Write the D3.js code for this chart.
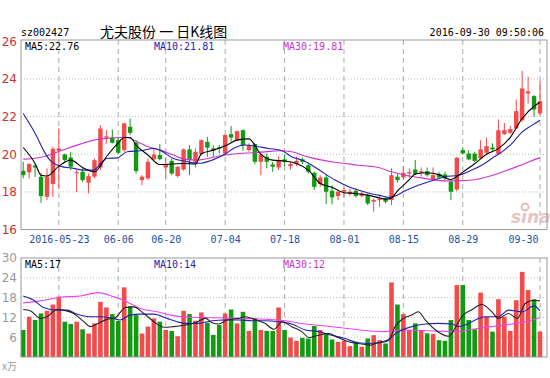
<!DOCTYPE html>
<meta charset="utf-8">
<script src="https://cdn.jsdelivr.net/npm/d3@7"></script>
<style>
  body { margin: 0; background: #fff; }
  text { font-family: "DejaVu Sans Mono", monospace; }
</style>
<body>
<div id="chart"></div>
<script>
// daily candles 2016-05-13 .. 2016-09-30 (index = trading day)
var opens  = [19.12,19.04,19.40,18.81,17.74,18.42,20.19,19.99,19.83,19.00,19.07,18.49,18.81,19.30,20.88,20.89,20.75,20.22,21.46,20.61,
              18.63,18.72,19.73,19.96,19.30,19.65,18.84,19.19,20.26,19.60,20.01,20.66,20.31,20.36,20.04,21.07,20.75,21.28,20.22,20.54,
              19.60,19.87,19.46,19.30,19.73,19.37,19.48,19.73,19.42,19.02,18.42,18.77,18.06,17.78,18.01,17.92,18.06,17.78,17.83,17.48,
              17.57,17.65,17.57,18.81,18.77,18.98,19.19,19.02,19.10,18.66,18.95,18.93,18.54,18.13,20.22,20.04,20.04,19.78,20.08,20.36,
              20.01,21.07,21.14,21.37,21.81,23.23,23.09,22.17];
var highs  = [19.60,19.55,19.48,19.02,19.25,20.40,21.37,20.04,20.13,19.16,19.25,18.98,19.78,21.55,21.28,21.32,20.93,21.67,21.90,20.75,
              18.89,19.78,20.30,20.54,19.80,19.78,19.37,20.31,20.49,20.31,20.79,20.93,20.49,20.49,21.07,21.50,21.25,21.32,20.58,20.58,
              20.04,20.04,19.60,19.90,19.99,19.60,19.87,19.83,19.51,19.07,18.89,18.95,18.36,18.13,18.24,18.19,18.19,18.01,17.92,17.65,
              17.83,17.78,19.25,18.95,19.37,19.25,19.69,19.30,19.30,19.30,19.07,19.07,18.63,19.87,20.36,20.22,20.13,20.75,20.89,20.58,
              21.85,21.67,21.50,22.91,24.43,24.12,23.14,23.90];
var lows   = [18.72,18.72,18.80,17.42,17.57,17.74,18.19,19.60,19.16,18.00,18.54,17.92,18.72,19.16,20.57,20.58,20.01,20.13,21.02,18.98,
              18.36,18.63,19.69,19.69,18.72,18.89,18.77,19.12,18.89,19.30,19.96,19.87,19.87,20.04,19.96,20.66,20.72,20.19,20.13,19.48,
              18.89,19.25,19.07,19.16,19.37,19.19,19.37,19.48,18.98,18.10,18.27,17.35,17.34,17.57,17.71,17.78,17.71,17.71,17.30,16.95,
              17.21,17.39,17.30,18.49,18.66,18.72,18.89,18.81,18.81,18.63,18.72,18.63,17.57,18.04,19.99,19.69,19.60,19.78,20.01,20.13,
              20.01,21.02,21.07,21.37,21.73,22.70,21.99,22.08];
var closes = [18.89,19.48,19.30,17.78,18.81,20.29,20.31,19.69,19.34,19.05,18.63,18.84,19.69,21.37,20.95,20.61,20.08,21.64,21.14,19.11,
              18.81,19.60,19.99,19.74,19.45,18.98,19.34,20.26,19.69,20.13,20.75,20.35,20.19,20.30,21.02,20.89,21.23,20.49,20.49,19.60,
              19.99,19.60,19.34,19.69,19.60,19.48,19.65,19.60,19.07,18.27,18.77,18.01,17.71,18.01,18.10,18.01,17.78,17.92,17.39,17.57,
              17.65,17.48,18.89,18.63,19.02,19.05,18.95,19.10,18.89,18.89,18.77,18.72,18.01,19.81,20.04,19.73,19.65,20.26,20.43,20.26,
              21.28,21.28,21.34,22.29,23.50,23.34,22.38,22.82];
// volume, 万手
var volumes = [8.2,12.2,11.2,13.2,14.0,15.9,18.3,10.7,10.0,10.7,8.4,7.1,10.2,16.7,15.0,13.0,10.9,21.1,15.4,12.7,
               7.1,9.2,11.7,10.7,8.2,7.9,6.3,14.0,13.0,11.0,13.5,10.4,6.7,9.7,13.2,14.4,10.2,13.7,7.9,11.7,
               8.2,7.9,7.9,15.0,8.2,5.9,4.9,5.8,5.6,9.4,8.2,7.2,5.3,4.6,4.9,3.3,4.6,3.1,5.6,6.6,
               5.1,4.1,22.6,15.9,13.0,8.2,10.2,8.2,7.2,7.0,5.1,4.9,11.2,21.8,21.8,11.2,8.4,19.5,12.2,7.7,
               17.5,12.2,7.9,17.2,25.8,20.3,17.5,7.7];

// moving average lines: [day index, value]
var ma5 = [[0,20.36],[2,19.51],[3,18.89],[4,18.85],[6,19.37],[8,19.69],[10,19.30],[12,19.07],[14,19.87],[16,20.61],[17,20.89],
           [18,20.89],[19,20.49],[21,19.96],[23,19.46],[25,19.48],[27,19.51],[29,19.48],[30,20.03],[32,20.22],[34,20.45],[36,20.75],
           [38,20.82],[40,20.01],[42,19.69],[44,19.64],[46,19.51],[48,19.16],[50,18.45],[52,18.25],[54,17.96],[56,17.92],[58,17.83],
           [60,17.68],[61,17.62],[62,17.68],[63,18.05],[64,18.35],[65,18.65],[66,18.95],[68,19.02],[70,18.92],[72,18.66],[73,18.82],
           [74,19.05],[76,19.50],[78,20.00],[80,20.30],[82,20.90],[84,21.90],[86,22.55],[87,22.76]];
var ma10 = [[0,22.17],[1.2,21.55],[2.3,20.93],[3.4,20.22],[4.5,19.69],[6.2,19.37],[8.5,19.25],[10.2,19.16],[11.9,19.16],[13,19.51],
            [14.1,19.78],[15.8,19.81],[17.5,20.13],[19.7,20.19],[22,20.31],[23,20.22],[25.3,19.78],[27.3,19.63],[29.5,19.52],
            [31.8,19.69],[34,20.01],[35.7,20.36],[37.4,20.49],[39,20.43],[41.3,20.31],[43.6,20.19],[45.2,19.87],[46.9,19.69],
            [48.6,19.42],[50.3,19.07],[52.5,18.63],[54.8,18.27],[56.4,18.10],[58.4,17.92],[59.8,17.83],[61.5,17.71],[62.6,17.78],
            [64.3,18.06],[66.5,18.36],[68.8,18.59],[71,18.81],[73.3,18.89],[75.5,19.16],[77.2,19.42],[78.9,19.78],[80.6,20.13],
            [82.3,20.58],[84,21.19],[85.7,21.55],[87,21.81]];
var ma30 = [[0,19.74],[1.7,19.78],[3.4,19.87],[5.1,20.04],[7.4,20.31],[9.6,20.54],[11.9,20.75],[14.1,20.84],[16.3,20.89],
            [17.5,20.89],[19.2,20.66],[20.8,20.43],[23.1,20.22],[25.3,19.96],[27.3,19.73],[29.5,19.70],[31.8,19.83],[34,19.96],
            [36.3,20.04],[38.5,20.08],[40.7,20.13],[43,20.19],[45.2,20.13],[47.5,19.90],[49.7,19.73],[51.9,19.60],[54.2,19.51],
            [56.4,19.42],[58.4,19.36],[59.8,19.30],[62,19.07],[64.3,18.89],[66.5,18.77],[68.8,18.66],[71,18.59],[73.3,18.59],
            [75.5,18.63],[77.7,18.77],[80,18.98],[82.3,19.25],[84.5,19.51],[86.2,19.73],[87,19.81]];
var vma5 = [[0,14.4],[1.2,14.0],[2.9,11.7],[4,12.2],[5.7,14.4],[6.8,14.2],[8.5,13.2],[10.2,10.7],[11.3,9.2],[12.4,10.0],
            [14.1,11.4],[15.5,11.9],[17.2,15.0],[18.6,15.2],[20.3,13.2],[22,10.7],[23.7,9.0],[25.3,9.2],[27,9.6],[29,10.4],
            [30.7,11.7],[31.8,10.4],[32.9,10.0],[34.3,11.2],[36.3,11.7],[37.4,12.2],[39,11.4],[40.7,10.2],[42.2,8.4],[43.6,10.7],
            [45.2,9.2],[46.9,7.7],[48.1,5.9],[49.7,6.6],[51.4,7.1],[53,5.9],[54.8,4.6],[56.4,4.1],[58.4,3.6],[59.3,4.1],[61.5,4.9],
            [62.6,9.2],[64,11.7],[65.4,12.7],[66.5,13.7],[67.7,11.2],[69.4,8.2],[71.6,6.3],[72.7,8.7],[73.8,12.2],[75.6,14.4],
            [77.2,15.9],[78.9,13.7],[80,11.7],[81.7,13.2],[83.2,11.7],[84.5,16.2],[86,17.2],[87,17.0]];
var vma10 = [[0,18.5],[1.7,17.3],[3.4,15.0],[5.7,14.2],[7.4,14.2],[9,13.0],[11.3,12.2],[13,12.2],[15.2,11.7],[16.3,11.2],
             [18,12.7],[19.7,13.0],[22,13.0],[24.2,11.7],[25.9,10.7],[27.3,10.2],[29.5,10.2],[31.8,11.0],[34,11.2],[36.3,11.2],
             [38.5,11.0],[40.7,11.0],[43,10.7],[45.2,10.0],[47.5,8.2],[49.7,7.7],[51.9,6.6],[54.2,5.6],[56.4,4.3],[58.4,4.1],
             [61,4.9],[63.2,7.7],[65.4,9.2],[67.7,10.0],[69.9,10.2],[72.2,10.0],[73.3,9.2],[74.4,9.7],[76.1,11.2],[77.8,12.2],
             [80,12.2],[81.7,14.2],[84,13.7],[86,15.5],[87,14.0]];
var vma30 = [[0,16.4],[2.9,17.0],[6.2,18.1],[9.6,18.5],[12.7,19.5],[15.2,18.3],[17.5,16.7],[19.7,14.7],[22.5,13.7],[24.8,12.7],
             [27.3,12.1],[31.8,11.9],[36.3,11.7],[41.3,11.4],[44.1,11.0],[47.5,10.0],[50.9,9.4],[54.2,8.7],[58.4,7.9],[61,7.7],
             [64.3,8.2],[68.8,7.9],[73.3,7.7],[75.5,8.4],[78.9,9.2],[82.3,10.0],[85.7,11.2],[87,12.0]];

var tickIdx = [6, 16, 24, 34, 44, 54, 64, 74, 87];
var tickLabels = ["2016-05-23", "06-06", "06-20", "07-04", "07-18", "08-01", "08-15", "08-29", "09-30"];
var priceTicks = [16, 18, 20, 22, 24, 26];
var volTicks = [6, 12, 18, 24, 30];

var W = 550, H = 378;
var left = 21, right = 547;
var pTop = 40, pBot = 229.6, vTop = 258, vBot = 357;
var red = "#f24b4b", green = "#129a12";

var svg = d3.select("#chart").append("svg")
    .attr("width", W).attr("height", H);

var x = d3.scaleLinear().domain([0, 87]).range([23.2, 540]);
var y = d3.scaleLinear().domain([16, 26]).range([pBot, 41.3]);
var yv = d3.scaleLinear().domain([0, 30]).range([vBot, vTop]);

// header
svg.append("text").attr("x", 21).attr("y", 36).attr("font-size", 10).attr("fill", "#000").text("sz002427");
svg.append("text").attr("x", 100).attr("y", 37).attr("font-size", 14)
    .style("font-family", "'Noto Sans CJK SC', sans-serif").attr("fill", "#000")
    .text("尤夫股份 一 日K线图");
svg.append("text").attr("x", 544).attr("y", 36).attr("font-size", 10).attr("text-anchor", "end")
    .attr("fill", "#000").text("2016-09-30 09:50:06");

// grids
function panelGrid(top, bot, scale, ticks) {
  svg.append("g").selectAll("line").data(ticks).enter().append("line")
      .attr("x1", left).attr("x2", right)
      .attr("y1", function(d) { return scale(d); }).attr("y2", function(d) { return scale(d); })
      .attr("stroke", "#bbb").attr("stroke-dasharray", "1,2");
  svg.append("g").selectAll("line").data(tickIdx).enter().append("line")
      .attr("x1", function(d) { return x(d); }).attr("x2", function(d) { return x(d); })
      .attr("y1", top).attr("y2", bot)
      .attr("stroke", "#aaa").attr("stroke-dasharray", "5,4");
}
panelGrid(pTop, pBot, y, [18, 20, 22, 24]);
panelGrid(vTop, vBot, yv, [6, 12, 18, 24]);

// axes labels
var ya = svg.append("g").attr("transform", "translate(" + left + ",0)")
    .call(d3.axisLeft(y).tickValues(priceTicks).tickSize(0).tickPadding(4).tickFormat(d3.format("d")));
ya.select(".domain").remove();
ya.selectAll("text").attr("fill", "#cc3333").attr("font-size", 12)
    .style("font-family", "'DejaVu Sans', sans-serif");

var yva = svg.append("g").attr("transform", "translate(" + left + ",0)")
    .call(d3.axisLeft(yv).tickValues(volTicks).tickSize(0).tickPadding(4).tickFormat(d3.format("d")));
yva.select(".domain").remove();
yva.selectAll("text").attr("fill", "#999").attr("font-size", 12)
    .style("font-family", "'DejaVu Sans', sans-serif");

var xa = svg.append("g").attr("transform", "translate(0," + pBot + ")")
    .call(d3.axisBottom(x).tickValues(tickIdx).tickSize(0).tickPadding(6)
      .tickFormat(function(d, i) { return tickLabels[i]; }));
xa.select(".domain").remove();
xa.selectAll("text").attr("fill", "#1f4f9f").attr("font-size", 10)
    .style("font-family", "'DejaVu Sans Mono', monospace");
xa.selectAll("text").filter(function(d) { return d === 87; })
    .attr("text-anchor", "end").attr("dx", -2);

svg.append("text").attr("x", 2).attr("y", 370).attr("font-size", 10).attr("fill", "#999")
    .style("font-family", "'Noto Sans CJK SC', sans-serif").text("x万");

// sina mark
svg.append("circle").attr("cx", 525).attr("cy", 207).attr("r", 3.5)
    .attr("fill", "none").attr("stroke", "#eaa9a9").attr("stroke-width", 1.5);
svg.append("text").attr("x", 511).attr("y", 223).attr("font-size", 17).attr("font-style", "italic")
    .attr("font-weight", "bold").attr("fill", "#e6c4c4")
    .style("font-family", "'DejaVu Sans', sans-serif").text("sina");

var idx = d3.range(closes.length);
function col(i) { return closes[i] >= opens[i] ? red : green; }

// candles
var cg = svg.append("g");
cg.selectAll("line").data(idx).enter().append("line")
    .attr("x1", function(i) { return x(i); }).attr("x2", function(i) { return x(i); })
    .attr("y1", function(i) { return y(highs[i]); }).attr("y2", function(i) { return y(lows[i]); })
    .attr("stroke", col).attr("stroke-width", 1);
cg.selectAll("rect").data(idx).enter().append("rect")
    .attr("x", function(i) { return x(i) - 2.2; }).attr("width", 4.4)
    .attr("y", function(i) { return y(Math.max(opens[i], closes[i])); })
    .attr("height", function(i) { return Math.max(1, Math.abs(y(opens[i]) - y(closes[i]))); })
    .attr("fill", col);

// volume bars
svg.append("g").selectAll("rect").data(idx).enter().append("rect")
    .attr("x", function(i) { return x(i) - 2.3; }).attr("width", 4.6)
    .attr("y", function(i) { return yv(volumes[i]); })
    .attr("height", function(i) { return vBot - yv(volumes[i]); })
    .attr("fill", col);

// MA lines
function maLine(data, scale, color) {
  var line = d3.line().x(function(d) { return x(d[0]); }).y(function(d) { return scale(d[1]); })
      .curve(d3.curveMonotoneX);
  svg.append("path").datum(data).attr("d", line)
      .attr("fill", "none").attr("stroke", color).attr("stroke-width", 1.1);
}
maLine(ma30, y, "#cc33cc");
maLine(ma10, y, "#2323b0");
maLine(ma5, y, "#000");
maLine(vma30, yv, "#ee44ee");
maLine(vma10, yv, "#2323b0");
maLine(vma5, yv, "#222");

// panel frames
[[pTop, pBot], [vTop, vBot]].forEach(function(p) {
  svg.append("rect").attr("x", left).attr("y", p[0]).attr("width", right - left).attr("height", p[1] - p[0])
      .attr("fill", "none").attr("stroke", "#999");
});

// legends
function legend(yy, items) {
  items.forEach(function(it) {
    svg.append("text").attr("x", it[0]).attr("y", yy).attr("font-size", 10).attr("fill", it[2]).text(it[1]);
  });
}
legend(50, [[25, "MA5:22.76", "#000"], [154, "MA10:21.81", "#2323b0"], [283, "MA30:19.81", "#cc33cc"]]);
legend(268, [[25, "MA5:17", "#000"], [154, "MA10:14", "#2323b0"], [283, "MA30:12", "#cc33cc"]]);
</script>
</body>
